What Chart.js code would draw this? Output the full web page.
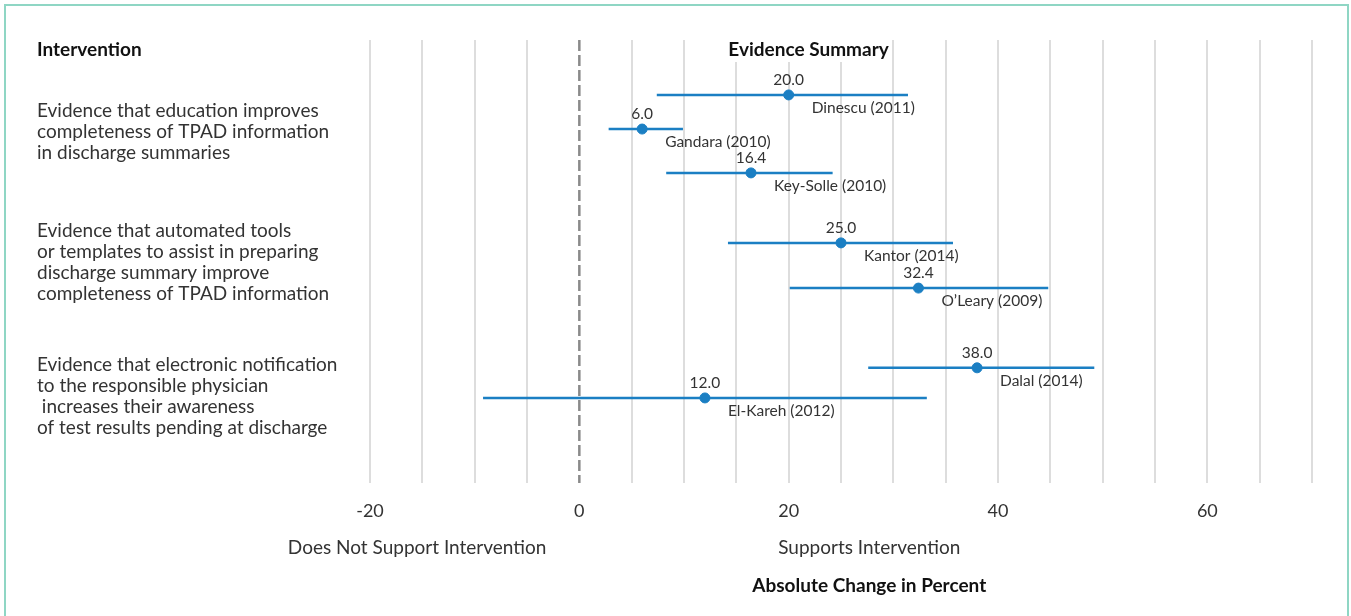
<!DOCTYPE html>
<html>
<head>
<meta charset="utf-8">
<title>Evidence Summary</title>
<script src="https://cdn.jsdelivr.net/npm/chart.js@4/dist/chart.umd.min.js"></script>
<style>
  html, body { margin: 0; padding: 0; background: #ffffff; }
  #wrap { position: relative; width: 1351px; height: 616px; overflow: hidden; }
  #frame {
    position: absolute; left: 4px; top: 4px; width: 1345px; height: 660px;
    border: 2px solid #8fd6c4; box-sizing: border-box; pointer-events: none;
  }
</style>
</head>
<body>
<div id="wrap">
  <canvas id="forest" width="1351" height="616"></canvas>
  <div id="frame"></div>
</div>
<script>
// Studies, effect sizes (absolute change in percent) and confidence limits
const studies  = ['Dinescu (2011)', 'Gandara (2010)', 'Key-Solle (2010)', 'Kantor (2014)', 'O\u2019Leary (2009)', 'Dalal (2014)', 'El-Kareh (2012)'];
const effects  = [20.0, 6.0, 16.4, 25.0, 32.4, 38.0, 12.0];
const lowerCI  = [7.4, 2.8, 8.3, 14.2, 20.1, 27.6, -9.2];
const upperCI  = [31.4, 9.9, 24.2, 35.7, 44.8, 49.2, 33.2];
// Row of each study on the vertical (row) axis, 0 = top, 10 = bottom
const studyRows = [1.24, 2.01, 3.00, 4.58, 5.60, 7.40, 8.08];

// Intervention groups shown in the left column
const interventions = [
  ['Evidence that education improves', 'completeness of TPAD information', 'in discharge summaries'],
  ['Evidence that automated tools', 'or templates to assist in preparing', 'discharge summary improve', 'completeness of TPAD information'],
  ['Evidence that electronic notification', 'to the responsible physician', ' increases their awareness', 'of test results pending at discharge']
];
const interventionRows = [2.08, 5.03, 8.04];

// Labelled x ticks (grid every 5)
const xTickLabels = [-20, 0, 20, 40, 60];
const xMin = -20, xMax = 70, xStep = 5;

const FONT = 'Lato, "Open Sans", "DejaVu Sans", sans-serif';
const BLUE = '#1b7fc3';
const TEXT = '#333333';

const datasets = [];
// reference line at no change
datasets.push({
  type: 'line',
  data: [{ x: 0, y: 0 }, { x: 0, y: 10 }],
  borderColor: '#8a8a8a',
  borderWidth: 2.5,
  borderDash: [11, 4],
  pointRadius: 0,
  order: 3
});
// confidence intervals
studies.forEach((s, i) => {
  datasets.push({
    type: 'line',
    data: [{ x: lowerCI[i], y: studyRows[i] }, { x: upperCI[i], y: studyRows[i] }],
    borderColor: BLUE,
    borderWidth: 2.5,
    pointRadius: 0,
    order: 2
  });
});
// point estimates
datasets.push({
  type: 'scatter',
  data: effects.map((v, i) => ({ x: v, y: studyRows[i] })),
  backgroundColor: BLUE,
  borderColor: BLUE,
  pointRadius: 5,
  order: 1
});

// Value and study labels next to each estimate
const studyLabels = {
  id: 'studyLabels',
  afterDatasetsDraw(chart) {
    const { ctx, scales: { x, y } } = chart;
    ctx.save();
    ctx.fillStyle = TEXT;
    ctx.font = '15.5px ' + FONT;
    effects.forEach((v, i) => {
      const px = x.getPixelForValue(v);
      const py = y.getPixelForValue(studyRows[i]);
      ctx.textAlign = 'center';
      ctx.textBaseline = 'middle';
      ctx.fillText(v.toFixed(1), px, py - 15);
      ctx.textAlign = 'left';
      ctx.fillText(studies[i], px + 23, py + 13);
    });
    ctx.restore();
  }
};

// Column headers and direction captions
const captions = {
  id: 'captions',
  afterDraw(chart) {
    const { ctx, chartArea, scales: { x } } = chart;
    ctx.save();
    ctx.textBaseline = 'middle';

    ctx.font = 'bold 19px ' + FONT;
    ctx.fillStyle = '#111111';
    ctx.textAlign = 'left';
    ctx.fillText('Intervention', 37, 50);

    const title = 'Evidence Summary';
    const cx = x.getPixelForValue(21.9);
    const w = ctx.measureText(title).width;
    ctx.fillStyle = '#ffffff';
    ctx.fillRect(cx - w / 2 - 2, chartArea.top, w + 4, 22);
    ctx.fillStyle = '#111111';
    ctx.textAlign = 'center';
    ctx.fillText(title, cx, 50);

    ctx.font = '19px ' + FONT;
    ctx.fillStyle = TEXT;
    ctx.fillText('Does Not Support Intervention', x.getPixelForValue(-15.5), 548);
    ctx.fillText('Supports Intervention', x.getPixelForValue(27.7), 548);

    ctx.font = 'bold 19px ' + FONT;
    ctx.fillStyle = '#111111';
    ctx.fillText('Absolute Change in Percent', x.getPixelForValue(27.7), 586);
    ctx.restore();
  }
};

new Chart(document.getElementById('forest'), {
  type: 'scatter',
  data: { datasets },
  options: {
    responsive: false,
    devicePixelRatio: 1,
    animation: false,
    layout: { padding: { left: 37, right: 39, top: 40, bottom: 0 } },
    plugins: { legend: { display: false }, tooltip: { enabled: false } },
    scales: {
      x: {
        type: 'linear',
        min: xMin,
        max: xMax,
        afterFit(axis) {
          axis.height = 133;
          axis.paddingLeft = 0;
          axis.paddingRight = 0;
        },
        afterBuildTicks(axis) {
          const t = [];
          for (let v = xMin; v <= xMax; v += xStep) t.push({ value: v });
          axis.ticks = t;
        },
        ticks: {
          autoSkip: false,
          maxRotation: 0,
          padding: 17,
          color: TEXT,
          font: { family: FONT, size: 18 },
          callback: (v) => xTickLabels.includes(v) ? String(v) : ''
        },
        grid: {
          drawTicks: false,
          lineWidth: 2,
          color: (c) => (c.tick && c.tick.value === 0) ? 'rgba(0,0,0,0)' : '#dddddd'
        },
        border: { display: false }
      },
      y: {
        type: 'linear',
        reverse: true,
        min: 0,
        max: 10,
        afterFit(axis) {
          axis.width = 333;
          axis.paddingTop = 0;
          axis.paddingBottom = 0;
        },
        afterBuildTicks(axis) {
          axis.ticks = interventionRows.map(v => ({ value: v }));
        },
        ticks: {
          autoSkip: false,
          crossAlign: 'far',
          color: TEXT,
          font: { family: FONT, size: 19, lineHeight: '21px' },
          callback: (v, i) => interventions[i]
        },
        grid: { display: false },
        border: { display: false }
      }
    }
  },
  plugins: [studyLabels, captions]
});
</script>
</body>
</html>
